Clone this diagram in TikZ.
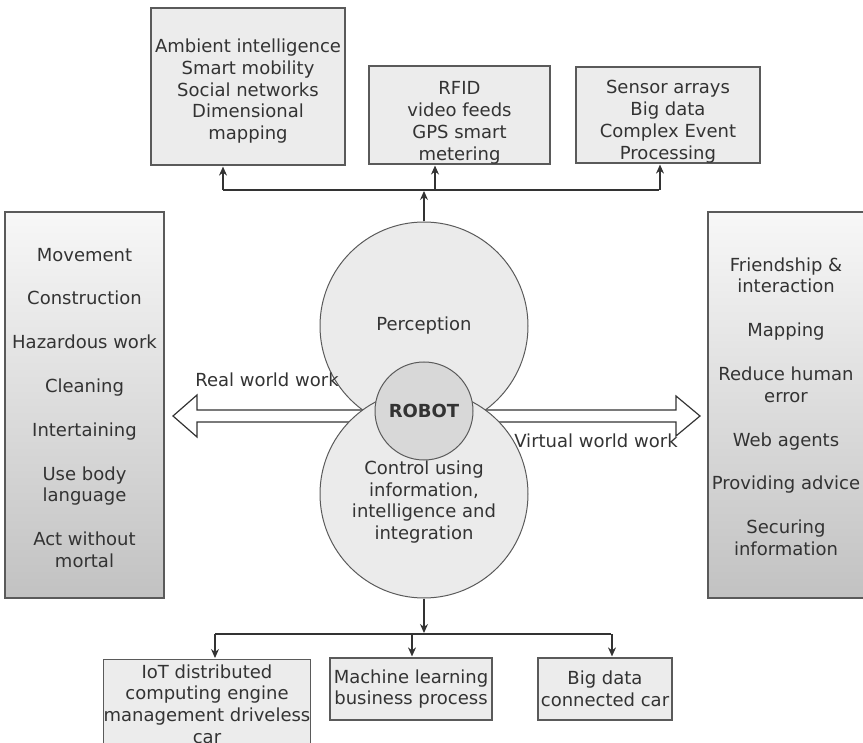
\documentclass[tikz,border=0pt]{standalone}
\usepackage{fontspec}
\setmainfont{DejaVu Sans}
\usetikzlibrary{arrows.meta, calc}

\definecolor{edgegray}{HTML}{5A5A5A}
\definecolor{boxgray}{HTML}{ECECEC}
\definecolor{ballgray}{HTML}{EBEBEB}
\definecolor{robotgray}{HTML}{D8D8D8}
\definecolor{inkgray}{HTML}{333333}

\tikzset{
  txt/.style={text=inkgray, font=\fontsize{18}{21.8}\selectfont},
  infobox/.style={txt, draw=edgegray, fill=boxgray, line width=1.2pt, align=center, inner sep=0pt},
  sidebox/.style={txt, draw=edgegray, line width=1.2pt, top color=gray!6, bottom color=gray!48, align=center, inner sep=0pt},
  ball/.style={txt, circle, draw=edgegray, fill=ballgray, line width=1pt, minimum size=208pt, inner sep=0pt, align=center},
  link/.style={draw=inkgray, line width=1.2pt},
  hollow/.style={draw=inkgray, line width=1.2pt, line join=miter},
}

\begin{document}
\begin{tikzpicture}[x=1pt,y=-1pt,>={Stealth[length=9pt,width=8pt]},shorten >=1pt]
  \clip (0,0) rectangle (863,743);

  % Define nodes
  \node[infobox, minimum width=194pt, minimum height=157pt] (amb) at (248,86.5)
    {\\[1pt]Ambient intelligence\\Smart mobility\\Social networks\\Dimensional\\mapping};
  \node[infobox, minimum width=181pt, minimum height=96pt] (rfid) at (459.5,115)
    {\\[7pt]RFID\\video feeds\\GPS smart\\metering};
  \node[infobox, minimum width=184pt, minimum height=96pt] (sens) at (668,115)
    {\\[5pt]Sensor arrays\\Big data\\Complex Event\\Processing};

  \node[sidebox, minimum width=159pt, minimum height=386pt] (real) at (84.5,405)
    {\\[-3pt]Movement\\[22pt]Construction\\[22pt]Hazardous work\\[22pt]Cleaning\\[22pt]Intertaining\\[22pt]Use body\\language\\[22pt]Act without\\mortal};
  \node[sidebox, minimum width=156pt, minimum height=386pt] (virt) at (786,405)
    {\\[-5pt]Friendship \&\\interaction\\[22pt]Mapping\\[22pt]Reduce human\\error\\[22pt]Web agents\\[22pt]Providing advice\\[22pt]Securing\\information};

  \node[infobox, minimum width=207pt, minimum height=89pt, anchor=north] (iot) at (207,659)
    {IoT distributed\\computing engine\\management driveless\\car};
  \node[infobox, minimum width=162pt, minimum height=62pt] (mlb) at (411,689)
    {Machine learning\\business process};
  \node[infobox, minimum width=134pt, minimum height=62pt] (bgd) at (605,689)
    {Big data\\connected car};

  % Two hollow arrows out of the middle
  \coordinate (hub) at (424,416);
  \coordinate (ltip) at (173,416);
  \coordinate (rtip) at (700,416);
  \draw[hollow] ($(hub)+(0,-6)$) -- ($(ltip)+(24,-6)$) -- ($(ltip)+(24,-21)$) -- (ltip)
    -- ($(ltip)+(24,21)$) -- ($(ltip)+(24,6)$) -- ($(hub)+(0,6)$);
  \draw[hollow] ($(hub)+(0,-6)$) -- ($(rtip)+(-24,-6)$) -- ($(rtip)+(-24,-20)$) -- (rtip)
    -- ($(rtip)+(-24,20)$) -- ($(rtip)+(-24,6)$) -- ($(hub)+(0,6)$);

  \node[ball] (per) at (424,326) {Perception};
  \node[ball] (ctl) at (424,494) {\\[8pt]Control using\\information,\\intelligence and\\integration};
  \node[txt, circle, draw=edgegray, fill=robotgray, line width=1pt, minimum size=98pt, inner sep=0pt] (rob) at (424,411)
    {\bfseries ROBOT};

  \node[txt] (rww) at (267,380) {Real world work};
  \node[txt] (vww) at (596,441) {Virtual world work};

  % Draw edges
  \coordinate (tl) at (223,190);
  \coordinate (tm) at (435,190);
  \coordinate (tr) at (660,190);
  \draw[link] (tl) -- (tr);
  \draw[link,->] (per.north) -- (per.north |- tl);
  \draw[link,->] (tl) -- (tl |- amb.south);
  \draw[link,->] (tm) -- (tm |- rfid.south);
  \draw[link,->] (tr) -- (tr |- sens.south);

  \coordinate (bl) at (215,634);
  \coordinate (bm) at (412,634);
  \coordinate (br) at (612,634);
  \draw[link] (bl) -- (br);
  \draw[link,->] (ctl.south) -- (ctl.south |- bl);
  \draw[link,->] (bl) -- (bl |- iot.north);
  \draw[link,->] (bm) -- (bm |- mlb.north);
  \draw[link,->] (br) -- (br |- bgd.north);
\end{tikzpicture}
\end{document}
